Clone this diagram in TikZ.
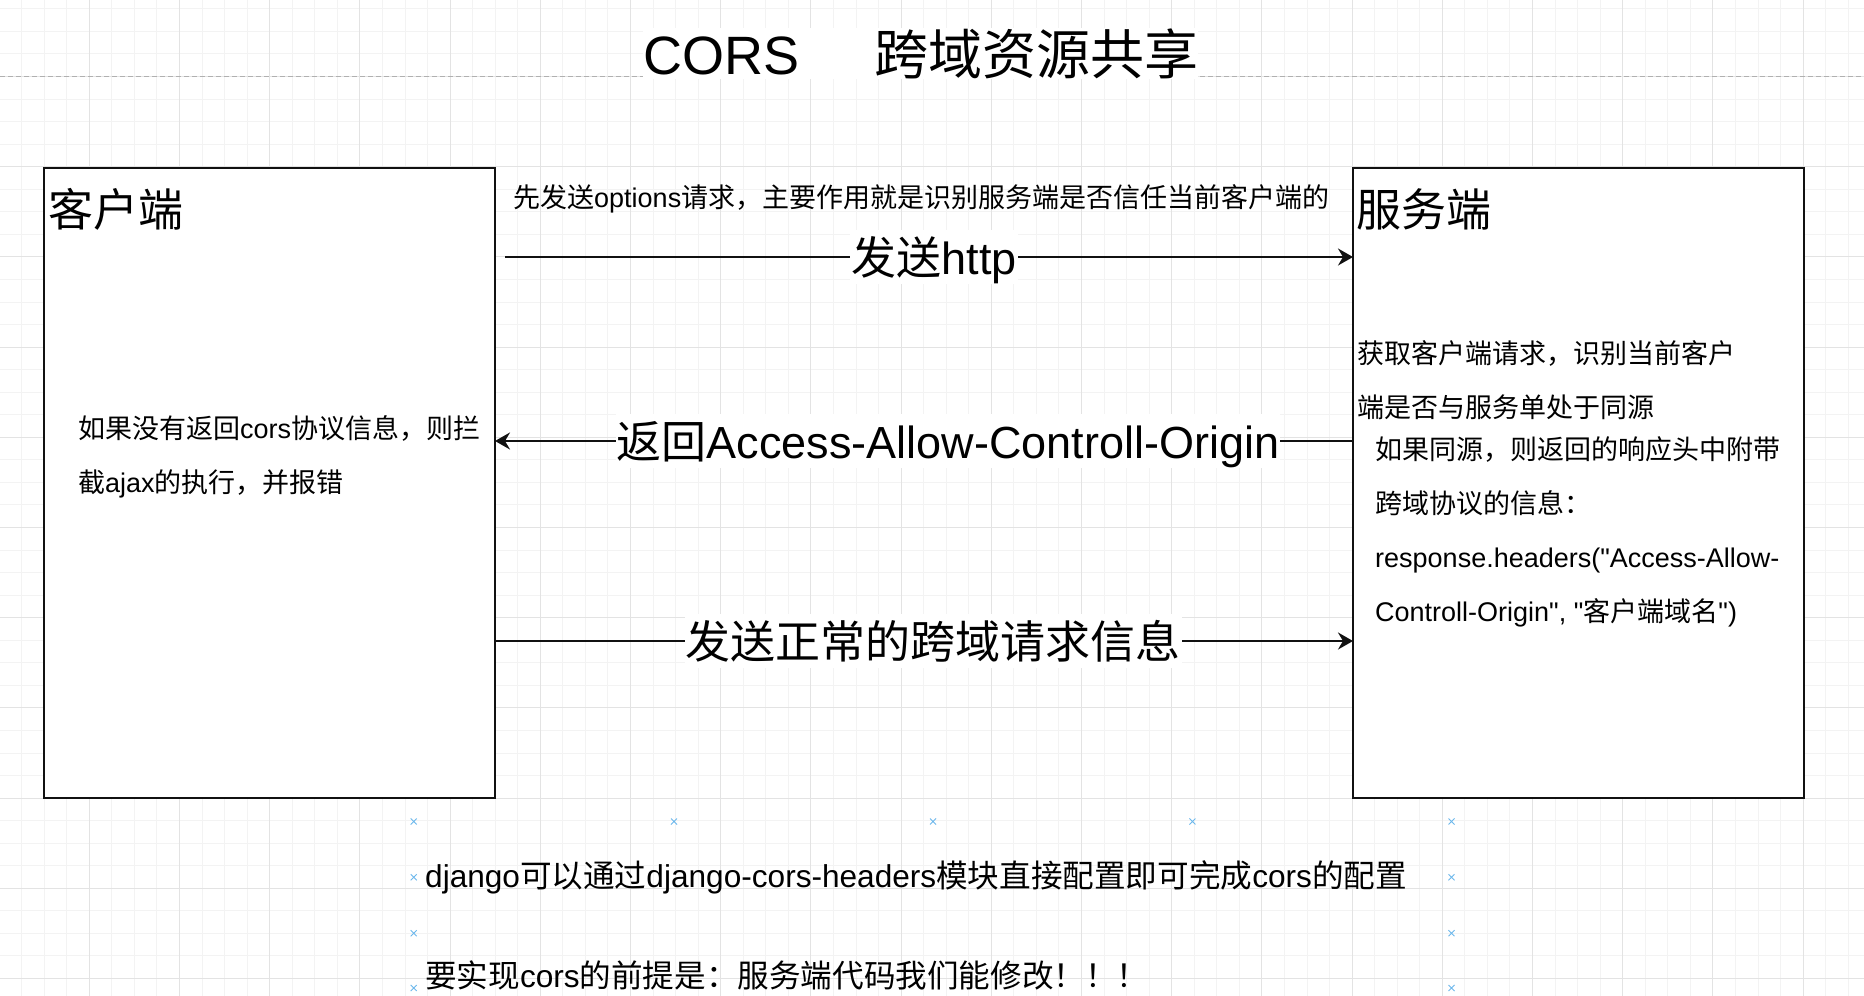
\documentclass[tikz,border=0pt]{standalone}
\usepackage{fontspec}
\setmainfont{Liberation Sans}
\newfontfamily\latinfont{Liberation Sans}
\newfontfamily\hanfont{Noto Sans CJK SC}
\usepackage{tikz}
\usetikzlibrary{arrows.meta,positioning,calc}
\definecolor{cGridMinor}{HTML}{F3F3F3}
\definecolor{cGridMajor}{HTML}{E3E3E3}
\definecolor{cDash}{HTML}{B0B0B0}
\definecolor{cMarker}{HTML}{6CB8EC}
\definecolor{cInk}{HTML}{111111}

% Han characters and full-width punctuation go to the CJK family
\XeTeXinterchartokenstate=1
\newXeTeXintercharclass\hanclass
\newcount\hanidx
\def\sethanrange#1#2{\hanidx=#1\relax
  \loop\XeTeXcharclass\hanidx=\hanclass
  \ifnum\hanidx<#2\relax\advance\hanidx by 1\repeat}
\sethanrange{"3000}{"303F}
\sethanrange{"4E00}{"9FFF}
\sethanrange{"FF00}{"FFEF}
\XeTeXinterchartoks 0 \hanclass = {\hanfont}
\XeTeXinterchartoks 4095 \hanclass = {\hanfont}
\XeTeXinterchartoks \hanclass 0 = {\latinfont}
\XeTeXinterchartoks 4095 0 = {\latinfont}

\begin{document}
\begin{tikzpicture}[
  x=1pt, y=-1pt,
  gridminor/.style={cGridMinor, line width=1pt},
  gridmajor/.style={cGridMajor, line width=1pt},
  box/.style={draw=cInk, fill=white, line width=2pt, inner sep=0pt, outer sep=0pt, anchor=north west, minimum width=451pt, minimum height=630pt},
  boxname/.style={inner sep=0pt, anchor=base west, font=\fontsize{45}{54}\selectfont},
  small/.style={inner sep=0pt, anchor=base west, font=\fontsize{27}{32}\selectfont},
  note/.style={inner sep=0pt, anchor=north west, align=left, font=\fontsize{27}{54}\selectfont},
  bottomtext/.style={inner sep=0pt, anchor=base west, font=\fontsize{31.6}{38}\selectfont},
  flow/.style={draw=cInk, line width=2pt, -{Stealth[length=15pt, width=17pt, inset=5pt]}},
  lbl/.style={fill=white, inner xsep=1pt, inner ysep=9pt, text height=35pt, text depth=1pt, font=\fontsize{45}{54}\selectfont},
  xmarkline/.style={cMarker, line width=0.9pt},
]
\useasboundingbox (0,0) rectangle (1864,996);
\fill[white] (0,0) rectangle (1864,996);

% ── grid ──────────────────────────────────────────────────────────────────
\foreach \k [evaluate=\k as \gx using -0.9+22.55*\k] in {1,...,82}
  \draw[gridminor] (\gx,0) -- (\gx,996);
\foreach \k [evaluate=\k as \gy using 76.5+22.55*\k] in {-3,...,40}
  \draw[gridminor] (0,\gy) -- (1864,\gy);
\foreach \k [evaluate=\k as \gx using -0.9+90.2*\k] in {1,...,20}
  \draw[gridmajor] (\gx,0) -- (\gx,996);
\foreach \k [evaluate=\k as \gy using 76.5+90.2*\k] in {0,...,10}
  \draw[gridmajor] (0,\gy) -- (1864,\gy);
\draw[cDash, line width=1pt, dash pattern=on 5pt off 3pt] (0,76.5) -- (1864,76.5);

% ── title ─────────────────────────────────────────────────────────────────
\node[fill=white, inner sep=0pt, anchor=base west, font=\fontsize{54}{64}\selectfont] (title) at (643,74) {CORS\hspace{75pt}跨域资源共享};

% ── client and server ─────────────────────────────────────────────────────
\node[box] (client) at (44,168) {};
\node[box] (server) at (1353,168) {};
\node[boxname] (clientname) at (48,226) {客户端};
\node[boxname] (servername) at (1356,226) {服务端};

% ── notes ─────────────────────────────────────────────────────────────────
\node[small] (optnote) at (513,207) {先发送options请求，主要作用就是识别服务端是否信任当前客户端的};
\node[note] (blocknote) at (78,415) {如果没有返回cors协议信息，则拦\\截ajax的执行，并报错};
\node[note] (checknote) at (1357,340) {获取客户端请求，识别当前客户\\端是否与服务单处于同源};
\node[note] (replynote) at (1375,436) {如果同源，则返回的响应头中附带\\跨域协议的信息：\\response.headers("Access-Allow-\\Controll-Origin", "客户端域名")};

% ── arrows ────────────────────────────────────────────────────────────────
\coordinate (sendtail) at (505,257);
\draw[flow] (sendtail) -- (sendtail -| server.west) node[lbl, midway, xshift=5pt] (httplbl) {发送http};
\draw[flow] (server.west |- 0,441) -- (client.east |- 0,441) node[lbl, midway, xshift=24pt] (backlbl) {返回Access-Allow-Controll-Origin};
\draw[flow] (client.east |- 0,641) -- (server.west |- 0,641) node[lbl, midway, xshift=9pt] (normallbl) {发送正常的跨域请求信息};

% ── django notes ──────────────────────────────────────────────────────────
\node[bottomtext] (djangonote) at (425,887) {django可以通过django-cors-headers模块直接配置即可完成cors的配置};
\node[bottomtext] (premisenote) at (425,987) {要实现cors的前提是：服务端代码我们能修改！！！};
\foreach \mx/\my in {413.7/821.5, 674/821.5, 933/821.5, 1192.4/821.5, 1451.5/821.5,
    413.7/877.3, 1451.5/877.3, 413.7/933.2, 1451.5/933.2, 413.7/988, 1451.5/988}
  \draw[xmarkline, shift={(\mx,\my)}] (-3,-3) -- (3,3) (-3,3) -- (3,-3);
\end{tikzpicture}
\end{document}
